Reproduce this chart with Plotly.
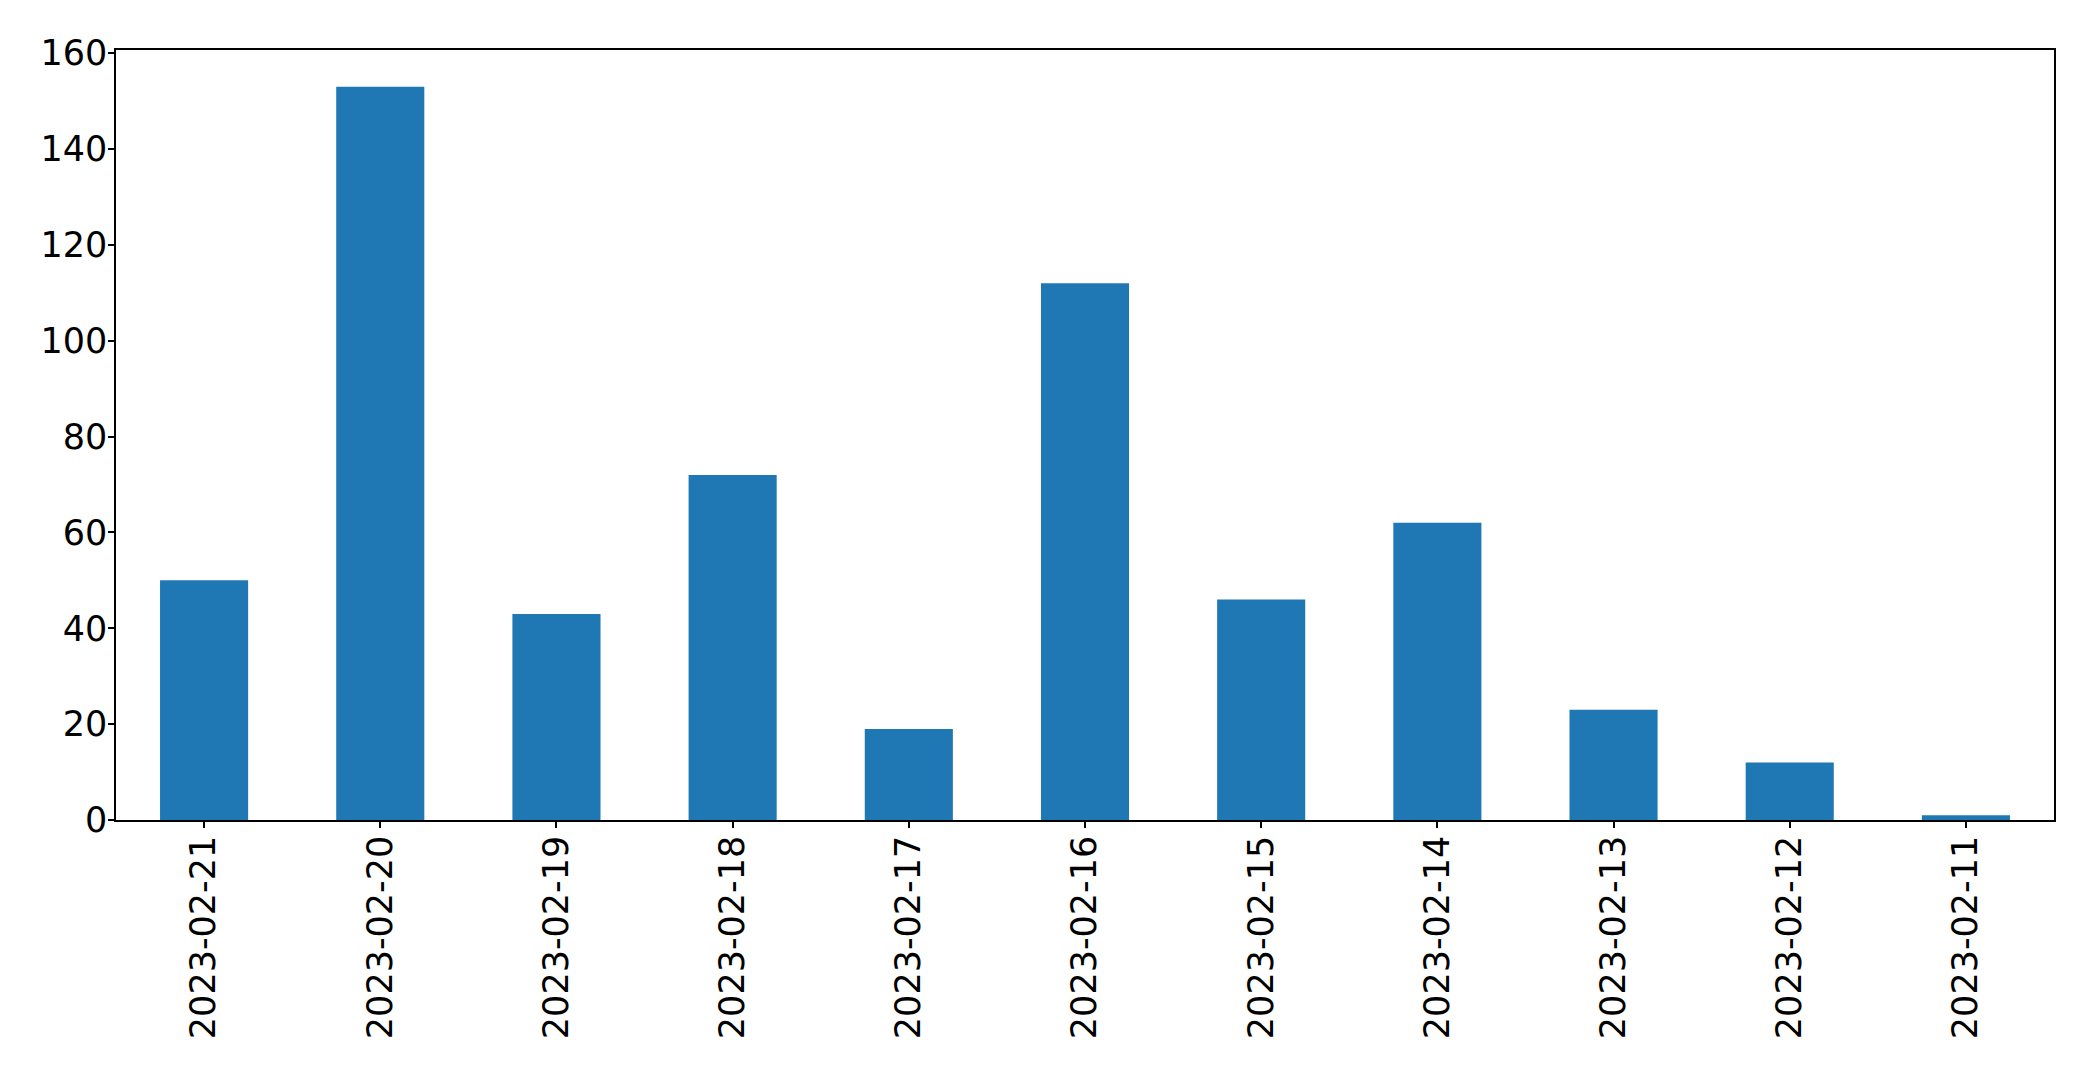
import plotly.graph_objects as go

dates = ["2023-02-21", "2023-02-20", "2023-02-19", "2023-02-18", "2023-02-17",
         "2023-02-16", "2023-02-15", "2023-02-14", "2023-02-13", "2023-02-12",
         "2023-02-11"]
counts = [50, 153, 43, 72, 19, 112, 46, 62, 23, 12, 1]
ytick_vals = [0, 20, 40, 60, 80, 100, 120, 140, 160]

fig = go.Figure()
fig.add_trace(go.Bar(x=list(range(len(dates))), y=counts, marker_color="#1f77b4",
                     marker_line_width=0, width=0.5))

axis_common = dict(showline=True, linecolor="black", linewidth=1.5, mirror=True,
                   ticks="outside", ticklen=6, tickwidth=1.5, tickcolor="black",
                   showgrid=False, zeroline=False, ticklabelstandoff=-6,
                   tickfont=dict(family="DejaVu Sans", size=35, color="black"))

fig.update_xaxes(range=[-0.5, len(dates) - 0.5], tickmode="array",
                 tickvals=list(range(len(dates))), ticktext=dates, tickangle=-90,
                 **axis_common)
fig.update_yaxes(range=[0, 160.65], tickmode="array", tickvals=ytick_vals,
                 **axis_common)

fig.update_layout(width=2085, height=1064, margin=dict(l=108, r=39, t=42, b=252),
                  plot_bgcolor="white", paper_bgcolor="white", showlegend=False,
                  font=dict(family="DejaVu Sans"))

fig.write_html("out.html")
